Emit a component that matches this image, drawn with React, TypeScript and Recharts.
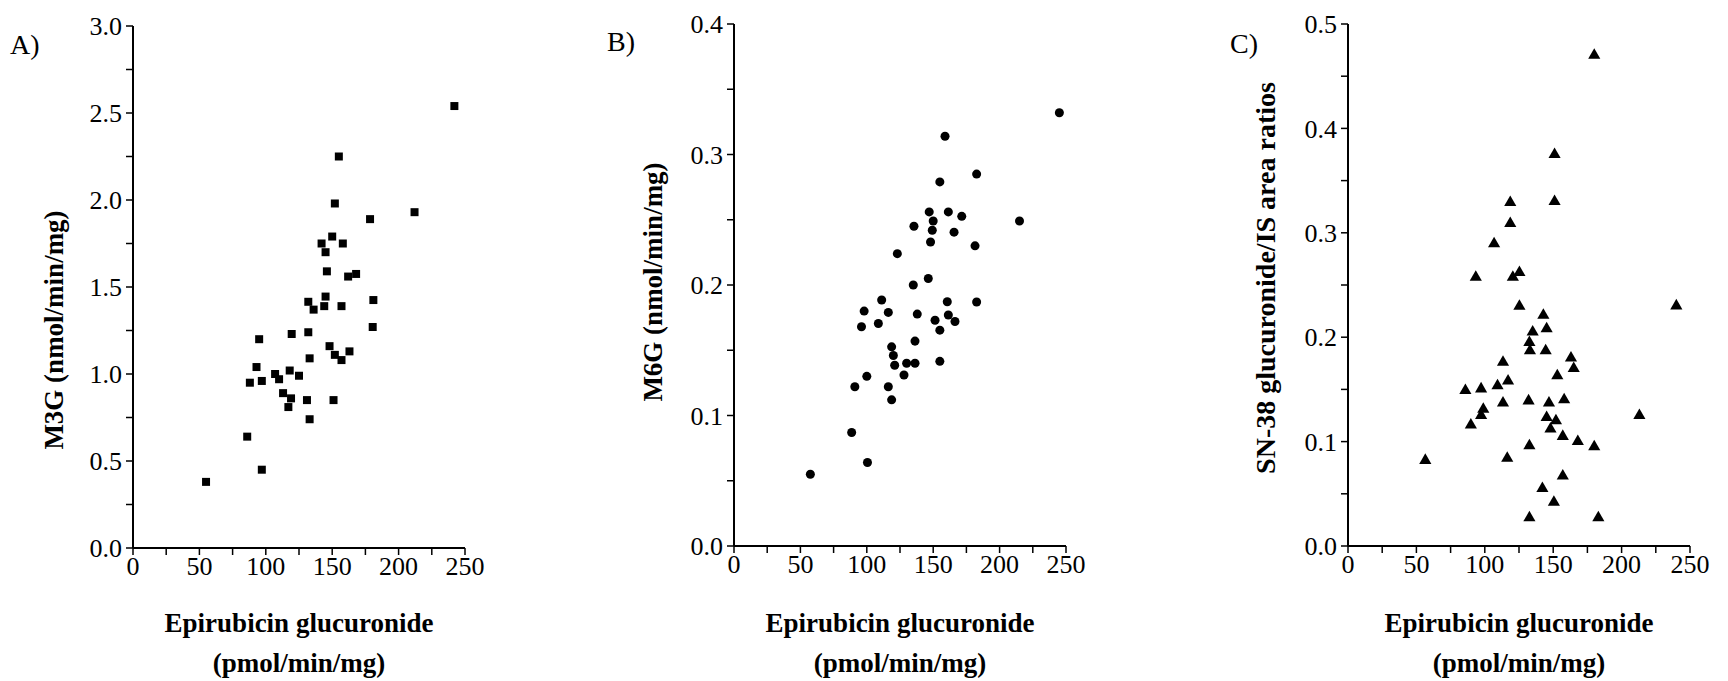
import React from "react";
import { ScatterChart, Scatter, XAxis, YAxis, ZAxis } from "recharts";

// panel A: M3G vs epirubicin glucuronide
const m3gPoints = [
  { x: 55, y: 0.38 }, { x: 86, y: 0.64 }, { x: 97, y: 0.45 }, { x: 88, y: 0.95 },
  { x: 93, y: 1.04 }, { x: 95, y: 1.2 }, { x: 97, y: 0.96 }, { x: 107, y: 1.0 },
  { x: 110, y: 0.97 }, { x: 113, y: 0.89 }, { x: 117, y: 0.81 }, { x: 118, y: 1.02 },
  { x: 119, y: 0.86 }, { x: 119.5, y: 1.23 }, { x: 125, y: 0.99 }, { x: 131, y: 0.85 },
  { x: 132, y: 1.24 }, { x: 133, y: 1.09 }, { x: 133, y: 0.74 }, { x: 132, y: 1.415 },
  { x: 136, y: 1.37 }, { x: 142, y: 1.75 }, { x: 144, y: 1.39 }, { x: 145, y: 1.7 },
  { x: 145, y: 1.445 }, { x: 146, y: 1.59 }, { x: 148, y: 1.16 }, { x: 150, y: 1.79 },
  { x: 151, y: 0.85 }, { x: 152, y: 1.11 }, { x: 152, y: 1.98 }, { x: 155, y: 2.25 },
  { x: 157, y: 1.08 }, { x: 157, y: 1.39 }, { x: 158, y: 1.75 }, { x: 162, y: 1.56 },
  { x: 163, y: 1.13 }, { x: 168, y: 1.575 }, { x: 178.5, y: 1.89 }, { x: 180.5, y: 1.27 },
  { x: 181, y: 1.425 }, { x: 212, y: 1.93 }, { x: 242, y: 2.54 },
];

// panel B: M6G
const m6gPoints = [
  { x: 57.5, y: 0.055 }, { x: 88.6, y: 0.087 }, { x: 100.5, y: 0.064 }, { x: 91, y: 0.122 },
  { x: 100, y: 0.13 }, { x: 96, y: 0.168 }, { x: 98, y: 0.18 }, { x: 108.7, y: 0.1705 },
  { x: 111.2, y: 0.1885 }, { x: 116.2, y: 0.179 }, { x: 116.2, y: 0.122 }, { x: 118.7, y: 0.112 },
  { x: 118.7, y: 0.1526 }, { x: 120, y: 0.146 }, { x: 121, y: 0.1385 }, { x: 123, y: 0.224 },
  { x: 128, y: 0.131 }, { x: 130, y: 0.14 }, { x: 135, y: 0.2 }, { x: 135.5, y: 0.245 },
  { x: 136.3, y: 0.157 }, { x: 136.3, y: 0.14 }, { x: 138, y: 0.1777 }, { x: 146.3, y: 0.205 },
  { x: 147, y: 0.256 }, { x: 148, y: 0.233 }, { x: 149.3, y: 0.242 }, { x: 150, y: 0.249 },
  { x: 151.4, y: 0.173 }, { x: 155, y: 0.1654 }, { x: 155, y: 0.1415 }, { x: 155, y: 0.279 },
  { x: 158.9, y: 0.314 }, { x: 160.6, y: 0.1872 }, { x: 161.4, y: 0.256 }, { x: 161.4, y: 0.177 },
  { x: 165.7, y: 0.2405 }, { x: 166.4, y: 0.172 }, { x: 171.5, y: 0.2526 }, { x: 181.5, y: 0.23 },
  { x: 182.7, y: 0.285 }, { x: 182.7, y: 0.187 }, { x: 215, y: 0.249 }, { x: 245, y: 0.332 },
];

// panel C: SN-38 glucuronide / IS area ratio
const sn38Points = [
  { x: 56.5, y: 0.082 }, { x: 85.8, y: 0.149 }, { x: 89.8, y: 0.116 }, { x: 93.4, y: 0.2575 },
  { x: 97.3, y: 0.1505 }, { x: 97.3, y: 0.125 }, { x: 98.9, y: 0.131 }, { x: 106.8, y: 0.2895 },
  { x: 109.3, y: 0.1535 }, { x: 113.3, y: 0.176 }, { x: 113.3, y: 0.137 }, { x: 116.4, y: 0.084 },
  { x: 117, y: 0.158 }, { x: 118.6, y: 0.329 }, { x: 118.6, y: 0.309 }, { x: 120.5, y: 0.2575 },
  { x: 125.3, y: 0.262 }, { x: 125.3, y: 0.2297 }, { x: 132, y: 0.139 }, { x: 132.6, y: 0.195 },
  { x: 132.6, y: 0.096 }, { x: 132.6, y: 0.027 }, { x: 133, y: 0.187 }, { x: 135, y: 0.205 },
  { x: 142.1, y: 0.055 }, { x: 142.8, y: 0.221 }, { x: 144.5, y: 0.187 }, { x: 145.2, y: 0.208 },
  { x: 145.2, y: 0.123 }, { x: 146.9, y: 0.137 }, { x: 148, y: 0.112 }, { x: 150.5, y: 0.042 },
  { x: 180, y: 0.47 }, { x: 151, y: 0.375 }, { x: 151, y: 0.33 }, { x: 240, y: 0.23 },
  { x: 163, y: 0.18 }, { x: 165, y: 0.17 }, { x: 153, y: 0.163 }, { x: 158, y: 0.14 },
  { x: 213, y: 0.125 }, { x: 152, y: 0.12 }, { x: 157, y: 0.105 }, { x: 168, y: 0.1 },
  { x: 180, y: 0.095 }, { x: 157, y: 0.067 }, { x: 183, y: 0.027 },
];

const xTicks = [0, 25, 50, 75, 100, 125, 150, 175, 200, 225, 250];
const m3gTicks = [0, 0.25, 0.5, 0.75, 1, 1.25, 1.5, 1.75, 2, 2.25, 2.5, 2.75, 3];
const m6gTicks = [0, 0.05, 0.1, 0.15, 0.2, 0.25, 0.3, 0.35, 0.4];
const sn38Ticks = [0, 0.05, 0.1, 0.15, 0.2, 0.25, 0.3, 0.35, 0.4, 0.45, 0.5];

const serif = "'Liberation Serif', 'DejaVu Serif', serif";
const tickStyle = { fontFamily: serif, fontSize: 26, fill: "#000" };
const titleStyle: React.CSSProperties = {
  position: "absolute",
  fontFamily: serif,
  fontSize: 27,
  fontWeight: "bold",
  color: "#000",
  whiteSpace: "nowrap",
  lineHeight: "40px",
};
const letterStyle: React.CSSProperties = { ...titleStyle, fontWeight: "normal", fontSize: 28 };

const Y_AXIS_W = 80;
const X_AXIS_H = 40;

type Pt = { x: number; y: number };

function Panel(props: {
  left: number;
  width: number;
  plotLeft: number;
  plotRight: number;
  plotTop: number;
  plotBottom: number;
  data: Pt[];
  yMax: number;
  yTicks: number[];
  major: number;
  shape: "square" | "circle" | "triangle";
  size: number;
}) {
  const { left, width, plotLeft, plotRight, plotTop, plotBottom, data, yMax, yTicks, major, shape, size } = props;
  const height = 681;
  const fmtY = (v: number) => {
    const r = Math.round((v / major) * 1000) / 1000;
    return Number.isInteger(r) ? v.toFixed(1) : "";
  };
  const fmtX = (v: number) => (v % 50 === 0 ? String(v) : "");
  return (
    <div style={{ position: "absolute", left, top: 0, width, height }}>
      <ScatterChart
        width={width}
        height={height}
        margin={{
          top: plotTop,
          right: width - (plotRight - left),
          bottom: height - plotBottom - X_AXIS_H,
          left: plotLeft - left - Y_AXIS_W,
        }}
      >
        <XAxis
          type="number"
          dataKey="x"
          domain={[0, 250]}
          ticks={xTicks}
          tickFormatter={fmtX}
          interval={0}
          height={X_AXIS_H}
          tick={tickStyle}
          tickSize={7}
          tickMargin={2}
          axisLine={{ stroke: "#000", strokeWidth: 2 }}
          tickLine={{ stroke: "#000", strokeWidth: 1.5 }}
          allowDataOverflow
        />
        <YAxis
          type="number"
          dataKey="y"
          domain={[0, yMax]}
          ticks={yTicks}
          tickFormatter={fmtY}
          interval={0}
          width={Y_AXIS_W}
          tick={tickStyle}
          tickSize={7}
          tickMargin={4}
          axisLine={{ stroke: "#000", strokeWidth: 2 }}
          tickLine={{ stroke: "#000", strokeWidth: 1.5 }}
          allowDataOverflow
        />
        <ZAxis range={[size, size]} />
        <Scatter data={data} fill="#000" shape={shape} isAnimationActive={false} />
      </ScatterChart>
    </div>
  );
}

export default function App() {
  return (
    <div style={{ position: "absolute", left: 0, top: 0, width: 1728, height: 681, background: "#fff", overflow: "hidden" }}>
      <Panel left={0} width={560} plotLeft={133} plotRight={465} plotTop={26} plotBottom={548}
        data={m3gPoints} yMax={3} yTicks={m3gTicks} major={0.5} shape="square" size={115} />
      <Panel left={580} width={560} plotLeft={734} plotRight={1066} plotTop={24} plotBottom={546}
        data={m6gPoints} yMax={0.4} yTicks={m6gTicks} major={0.1} shape="circle" size={95} />
      <Panel left={1160} width={568} plotLeft={1348} plotRight={1690} plotTop={24} plotBottom={546}
        data={sn38Points} yMax={0.5} yTicks={sn38Ticks} major={0.1} shape="triangle" size={65} />

      <div style={{ ...letterStyle, left: 10, top: 25 }}>A)</div>
      <div style={{ ...letterStyle, left: 607, top: 22 }}>B)</div>
      <div style={{ ...letterStyle, left: 1230, top: 24 }}>C)</div>

      <div style={{ ...titleStyle, left: 54, top: 330, transform: "translate(-50%, -50%) rotate(-90deg)" }}>
        M3G (nmol/min/mg)
      </div>
      <div style={{ ...titleStyle, left: 653, top: 282, transform: "translate(-50%, -50%) rotate(-90deg)" }}>
        M6G (nmol/min/mg)
      </div>
      <div style={{ ...titleStyle, left: 1266, top: 278, fontSize: 28, transform: "translate(-50%, -50%) rotate(-90deg)" }}>
        SN-38 glucuronide/IS area ratios
      </div>

      {[299, 900, 1519].map((cx) => (
        <div key={cx} style={{ ...titleStyle, left: cx, top: 603, transform: "translateX(-50%)", textAlign: "center" }}>
          Epirubicin glucuronide
          <br />
          (pmol/min/mg)
        </div>
      ))}
    </div>
  );
}
